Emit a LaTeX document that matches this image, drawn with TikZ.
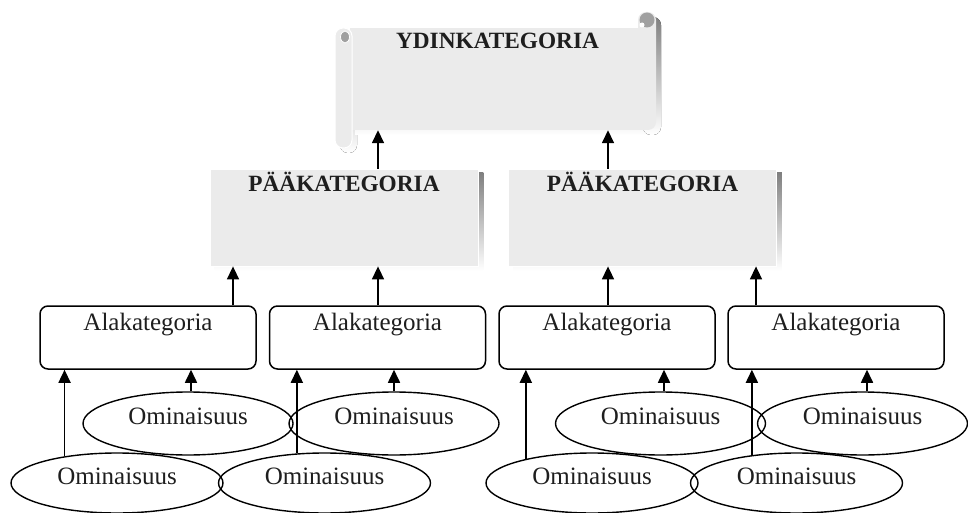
\documentclass[tikz,border=0pt]{standalone}
\usepackage{fontspec}
\setmainfont{Liberation Serif}
\usetikzlibrary{arrows.meta,shapes.geometric,backgrounds}
\definecolor{panel}{HTML}{EBEBEB}
\definecolor{shade}{HTML}{9C9C9C}
\definecolor{curl}{HTML}{A0A0A0}
\definecolor{ink}{HTML}{1E1E1E}

\begin{document}
\begin{tikzpicture}[x=1pt,y=-1pt,
  arr/.style={line width=1.6pt,-{Triangle[width=12pt,length=13pt]}},
  headbox/.style={rectangle,fill=panel,draw=white,line width=0.8pt,
    minimum width=268pt,minimum height=97pt,inner sep=0pt},
  alabox/.style={rectangle,rounded corners=8pt,draw=black,line width=1.5pt,
    minimum width=216pt,minimum height=63pt,inner sep=0pt},
  trait/.style={ellipse,draw=black,line width=1.4pt,
    minimum width=210pt,minimum height=63pt,inner sep=0pt},
  lowtrait/.style={trait,minimum width=212pt,minimum height=60pt},
  boldtitle/.style={font=\fontsize{23.3}{28}\selectfont\bfseries,text=ink,inner sep=0pt,anchor=base},
  plain/.style={font=\fontsize{25}{30}\selectfont,text=ink,inner sep=0pt,anchor=base}
]
\useasboundingbox (0,0) rectangle (968,513);

% ---------- core category: horizontal scroll ----------
\begin{scope}[shift={(5,5)}]
  \fill[shade, rounded corners=8pt] (335,28) rectangle (352,148);
  \fill[shade] (350,28) rectangle (645,130);
  \fill[shade, rounded corners=8pt] (638,12) rectangle (656,130);
\end{scope}
\fill[panel, rounded corners=8pt] (638,12) rectangle (656,130);
\fill[panel] (350,28) rectangle (645,130);
\fill[panel, draw=white, line width=1pt, rounded corners=8pt] (335,28) rectangle (352,148);
% curls at the ends of the rolls
\fill[curl] (345,37) ellipse [x radius=4.5pt, y radius=6pt];
\draw[white, line width=0.8pt] (345,37) ellipse [x radius=4.5pt, y radius=6pt];
\fill[curl] (647,20) circle [radius=7.5pt];
\fill[white] (642,25) circle [radius=2.5pt];

\node[minimum width=320pt, minimum height=102pt, inner sep=0pt,
  label={[boldtitle,xshift=2.5pt,yshift=-21pt]north:YDINKATEGORIA}] (core) at (495,79) {};

% ---------- main categories ----------
\node[headbox, label={[boldtitle,yshift=-23pt]north:PÄÄKATEGORIA}] (p1) at (344,217.5) {};
\node[headbox, label={[boldtitle,yshift=-23pt]north:PÄÄKATEGORIA}] (p2) at (642.5,217.5) {};
\begin{scope}[on background layer]
  \fill[shade] ([xshift=5pt,yshift=-4pt]p1.south west) rectangle ([xshift=5pt,yshift=-4pt]p1.north east);
  \fill[shade] ([xshift=5pt,yshift=-4pt]p2.south west) rectangle ([xshift=5pt,yshift=-4pt]p2.north east);
\end{scope}

% ---------- subcategories ----------
\foreach \n/\x in {a1/148, a2/377.5, a3/607, a4/836}
  \node[alabox, label={[plain,yshift=-25pt]north:Alakategoria}] (\n) at (\x,337.5) {};

% ---------- properties ----------
\foreach \n/\x in {e1/188, e2/394, e3/660.5, e4/862.5}
  \node[trait, label={[plain,yshift=-33pt]north:Ominaisuus}] (\n) at (\x,423.5) {};
\foreach \n/\x in {e5/117, e6/324.5, e7/592, e8/796.5}
  \node[lowtrait, label={[plain,yshift=-32pt]north:Ominaisuus}] (\n) at (\x,483) {};

% ---------- connectors ----------
\draw[arr] ([xshift=34pt]p1.north) -- ([xshift=34pt]p1.north |- core.south);
\draw[arr] ([xshift=-34.5pt]p2.north) -- ([xshift=-34.5pt]p2.north |- core.south);

\draw[arr] ([xshift=85pt]a1.north) -- ([xshift=85pt]a1.north |- p1.south);
\draw[arr] ([xshift=0.5pt]a2.north) -- ([xshift=0.5pt]a2.north |- p1.south);
\draw[arr] ([xshift=1pt]a3.north) -- ([xshift=1pt]a3.north |- p2.south);
\draw[arr] ([xshift=-80pt]a4.north) -- ([xshift=-80pt]a4.north |- p2.south);

\draw[arr] (e5.153.3) -- (e5.153.3 |- a1.south);
\draw[arr] ([xshift=3pt]e1.north) -- ([xshift=3pt]e1.north |- a1.south);
\draw[arr] (e6.133.5) -- (e6.133.5 |- a2.south);
\draw[arr] (e2.north) -- (e2.north |- a2.south);
\draw[arr] (e7.160.4) -- (e7.160.4 |- a3.south);
\draw[arr] ([xshift=3.5pt]e3.north) -- ([xshift=3.5pt]e3.north |- a3.south);
\draw[arr] (e8.148.6) -- (e8.148.6 |- a4.south);
\draw[arr] ([xshift=4.5pt]e4.north) -- ([xshift=4.5pt]e4.north |- a4.south);
\end{tikzpicture}
\end{document}
